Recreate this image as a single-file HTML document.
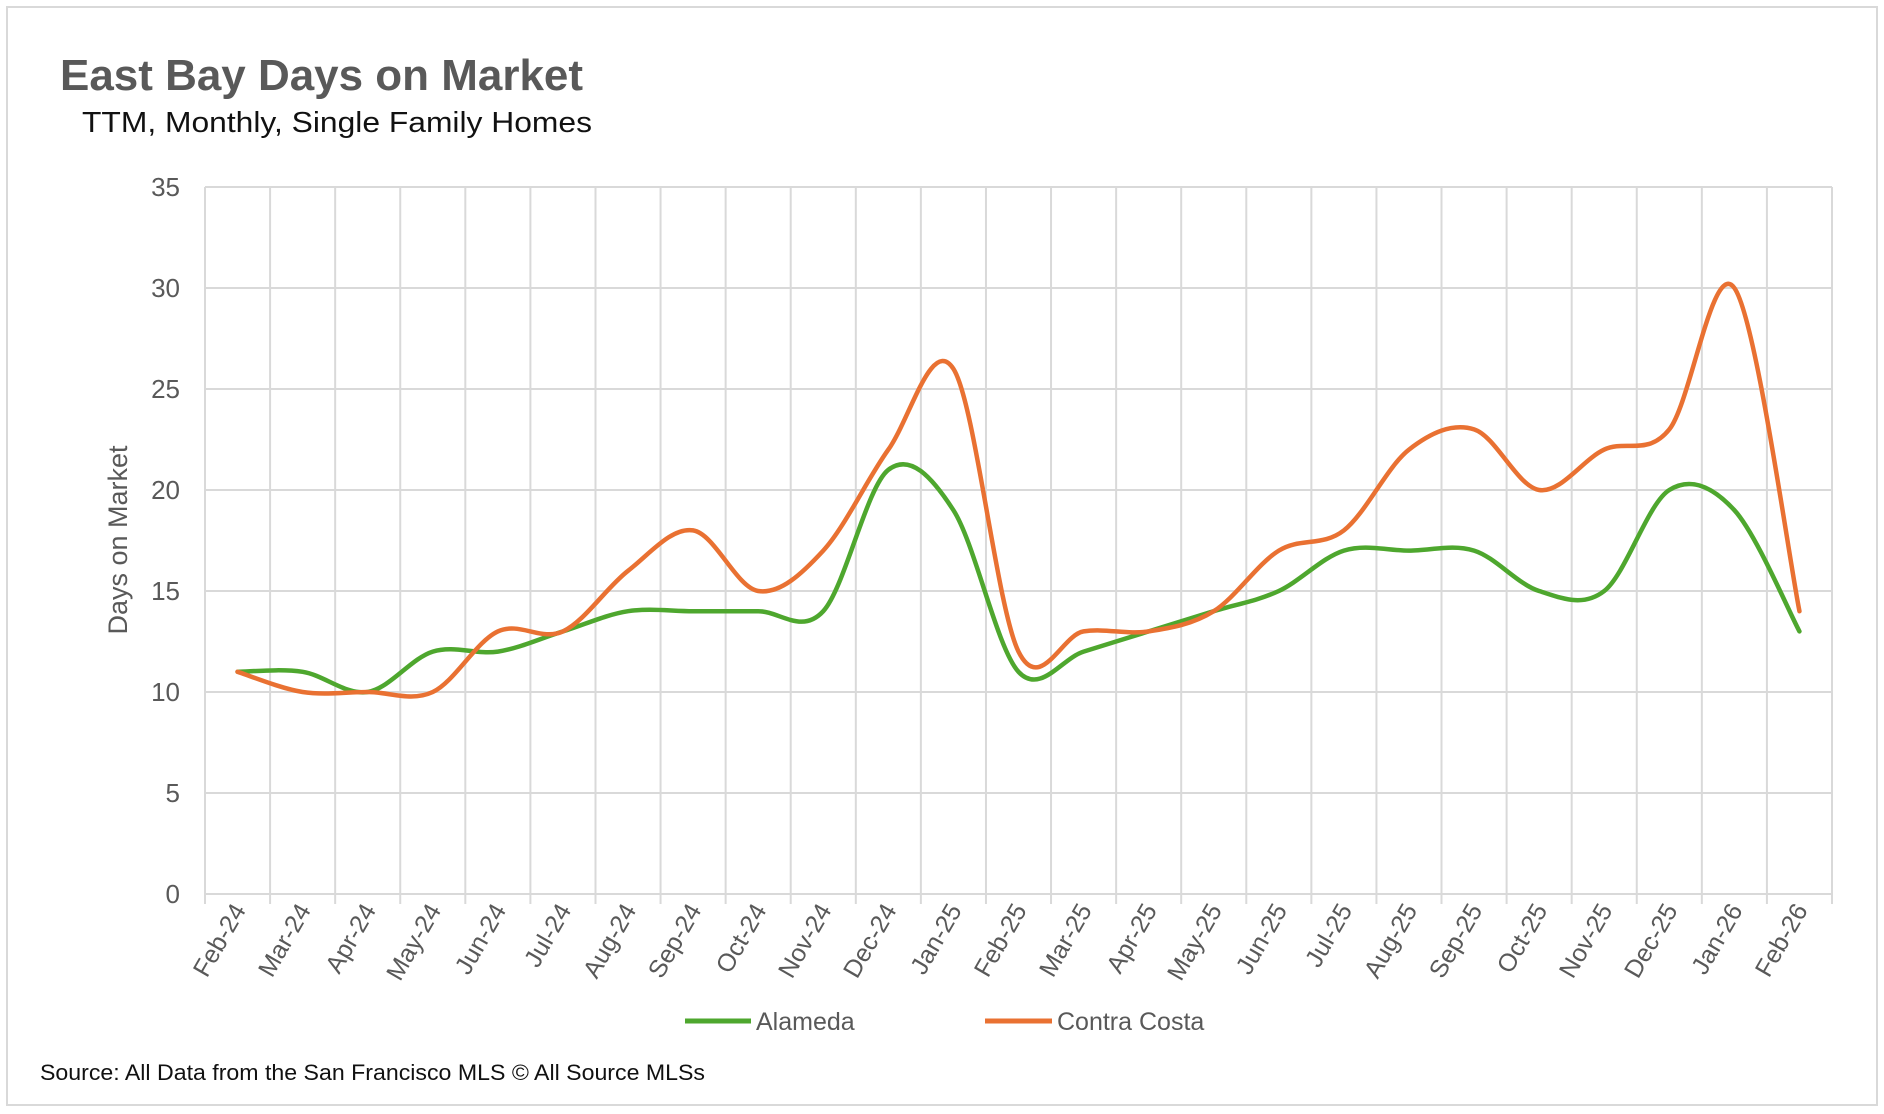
<!DOCTYPE html>
<html><head><meta charset="utf-8"><style>
html,body{margin:0;padding:0;background:#fff;}
svg{display:block;font-family:"Liberation Sans",sans-serif;}
</style></head><body>
<svg id="chart" width="1884" height="1114" viewBox="0 0 1884 1114">
<rect x="7" y="7" width="1870" height="1098" fill="#fff" stroke="#d9d9d9" stroke-width="2"/>
<text x="60" y="90" font-size="44" font-weight="bold" fill="#595959" textLength="523" lengthAdjust="spacingAndGlyphs">East Bay Days on Market</text>
<text x="82" y="132" font-size="29" fill="#111" textLength="510" lengthAdjust="spacingAndGlyphs">TTM, Monthly, Single Family Homes</text>
<g id="grid"></g>
<g id="axes"></g>
<g id="series"></g>
<text transform="translate(127,540) rotate(-90)" text-anchor="middle" font-size="27" fill="#595959">Days on Market</text>
<g>
<g>
<line x1="685" y1="1021" x2="751" y2="1021" stroke="#4EA72E" stroke-width="5"/>
<text x="756" y="1030" font-size="25" fill="#595959">Alameda</text></g>
<g>
<line x1="985" y1="1021" x2="1052" y2="1021" stroke="#E97132" stroke-width="5"/>
<text x="1057" y="1030" font-size="25" fill="#595959">Contra Costa</text></g>
</g>
<text x="40" y="1080" font-size="22" fill="#111" textLength="665" lengthAdjust="spacingAndGlyphs">Source: All Data from the San Francisco MLS © All Source MLSs</text>
</svg>
<script>
const categories=["Feb-24","Mar-24","Apr-24","May-24","Jun-24","Jul-24","Aug-24","Sep-24","Oct-24","Nov-24","Dec-24","Jan-25","Feb-25","Mar-25","Apr-25","May-25","Jun-25","Jul-25","Aug-25","Sep-25","Oct-25","Nov-25","Dec-25","Jan-26","Feb-26"];
const alameda=[11,11,10,12,12,13,14,14,14,14,21,19,11,12,13,14,15,17,17,17,15,15,20,19,13];
const contraCosta=[11,10,10,10,13,13,16,18,15,17,22,26,12,13,13,14,17,18,22,23,20,22,23,30,14];
const yTicks=[0,5,10,15,20,25,30,35];
const NS="http://www.w3.org/2000/svg";
const L=205,R=1832,T=187,B=894,yMax=35;
const bw=(R-L)/categories.length;
const xPos=i=>L+bw*(i+0.5);
const yPos=v=>B-(v/yMax)*(B-T);
function mk(t,a,p){const e=document.createElementNS(NS,t);for(const k in a)e.setAttribute(k,a[k]);p.appendChild(e);return e;}
const grid=document.getElementById('grid'),axes=document.getElementById('axes'),series=document.getElementById('series');
yTicks.forEach(v=>{
  const l=mk('line',{x1:L,x2:R,y1:yPos(v),y2:yPos(v),stroke:'#d9d9d9','stroke-width':2},grid);
  
  
  const t=mk('text',{x:180,y:yPos(v)+9,'text-anchor':'end','font-size':26,fill:'#595959'},axes);
  t.textContent=v;
  
  
});
for(let i=0;i<=categories.length;i++){
  const x=L+bw*i;
  const l=mk('line',{x1:x,x2:x,y1:T,y2:B+10,stroke:'#d9d9d9','stroke-width':2},grid);
  
  
}
categories.forEach((c,i)=>{
  const x=xPos(i)+9,y=B+16;
  const t=mk('text',{x:x,y:y,'text-anchor':'end','font-size':25,fill:'#595959',transform:`rotate(-60 ${x} ${y})`},axes);
  t.textContent=c;
  
  
});
function smooth(vals){
  const p=vals.map((v,i)=>[xPos(i),yPos(v)]);
  let d=`M${p[0][0]},${p[0][1]}`;
  for(let i=0;i<p.length-1;i++){
    const p0=p[i-1]||p[i],p1=p[i],p2=p[i+1],p3=p[i+2]||p[i+1];
    const c1=[p1[0]+(p2[0]-p0[0])/6,p1[1]+(p2[1]-p0[1])/6];
    const c2=[p2[0]-(p3[0]-p1[0])/6,p2[1]-(p3[1]-p1[1])/6];
    d+=`C${c1[0]},${c1[1]} ${c2[0]},${c2[1]} ${p2[0]},${p2[1]}`;
  }
  return d;
}
const la=mk('path',{d:smooth(alameda),fill:'none',stroke:'#4EA72E','stroke-width':4.5,'stroke-linecap':'round'},series);


const lc=mk('path',{d:smooth(contraCosta),fill:'none',stroke:'#E97132','stroke-width':4.5,'stroke-linecap':'round'},series);


</script>
</body></html>
